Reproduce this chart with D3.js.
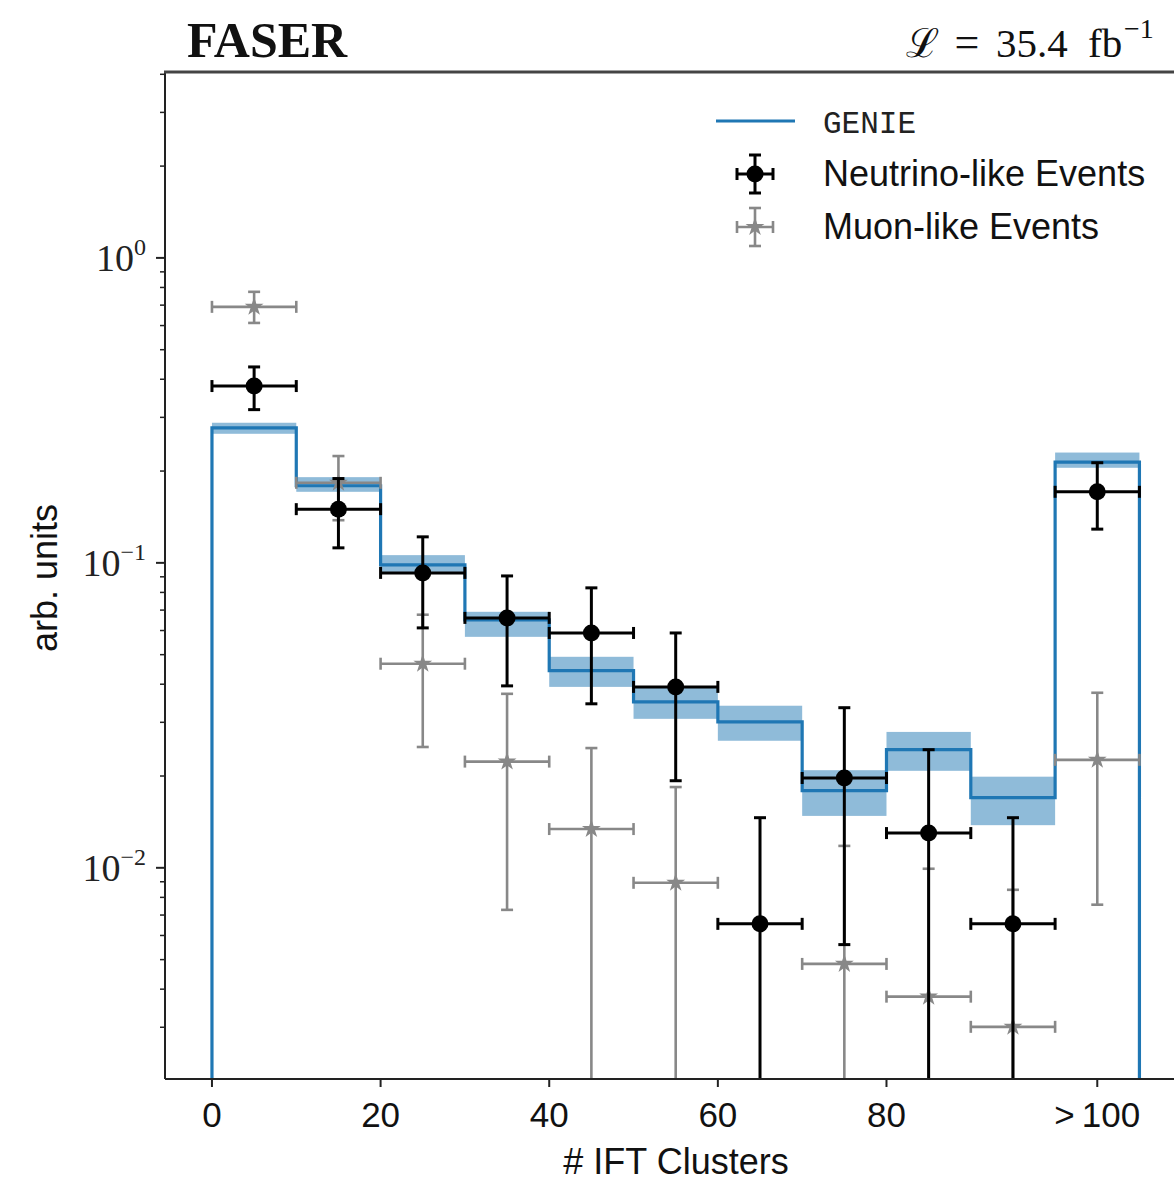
<!DOCTYPE html>
<html><head><meta charset="utf-8">
<script src="https://cdn.jsdelivr.net/npm/d3@7"></script>
<style>body{margin:0;background:#fff;}svg{display:block;}</style>
</head><body>
<svg id="c" width="1174" height="1182"></svg>
<script>
// ---- data ----
const binEdges = [0,10,20,30,40,50,60,70,80,90,100,110];
const genie     = [0.277,0.179,0.0985,0.0650,0.0443,0.0350,0.0301,0.0179,0.0244,0.0170,0.214];
const genieLow  = [0.265,0.171,0.0934,0.0572,0.0392,0.0308,0.0261,0.0148,0.0208,0.0138,0.205];
const genieHigh = [0.288,0.191,0.106,0.0691,0.0492,0.0389,0.0340,0.0209,0.0279,0.0199,0.230];

const nuX    = [5,15,25,35,45,55,65,75,85,95,105];
const nuY    = [0.380,0.150,0.0927,0.0660,0.0589,0.0392,0.00655,0.0197,0.0130,0.00655,0.171];
const nuLow  = [0.318,0.112,0.0612,0.0395,0.0345,0.0193,0,0.0056,0,0,0.129];
const nuHigh = [0.439,0.189,0.1217,0.0906,0.0828,0.0589,0.0146,0.0335,0.0244,0.0146,0.213];

const muX    = [5,15,25,35,45,55,75,85,95,105];
const muY    = [0.691,0.183,0.0467,0.0223,0.0134,0.00893,0.00484,0.00378,0.00301,0.0226];
const muLow  = [0.612,0.138,0.0249,0.00728,0,0,0,0,0,0.00757];
const muHigh = [0.774,0.224,0.0676,0.0372,0.0247,0.0184,0.0118,0.00993,0.00847,0.0375];

const xTickVals   = [0,20,40,60,80,105];
const xTickLabels = ["0","20","40","60","80",">\u2009100"];
const yMajor = [1,0.1,0.01];
const yMajorExp = ["0","\u22121","\u22122"];

// ---- layout ----
const L=165, T=72, R=1174, B=1079;
const svg = d3.select("#c");
const x = d3.scaleLinear().domain([-5.57,114.1]).range([L,R]);
const y = d3.scaleLog().domain([0.00203,4.07]).range([B,T]);
const yc = v => v<=0 ? B+20 : y(v);

const blue="#1f77b4", grey="#888888";
const sans="Liberation Sans, Arial, sans-serif";

svg.append("defs").append("clipPath").attr("id","clip")
  .append("rect").attr("x",L).attr("y",T).attr("width",R-L+20).attr("height",B-T);

const g = svg.append("g").attr("clip-path","url(#clip)");

// band
const bins = d3.range(genie.length);
g.selectAll("rect.band").data(bins).join("rect")
  .attr("x",i=>x(binEdges[i])).attr("width",i=>x(binEdges[i+1])-x(binEdges[i]))
  .attr("y",i=>y(genieHigh[i])).attr("height",i=>y(genieLow[i])-y(genieHigh[i]))
  .attr("fill",blue).attr("fill-opacity",0.5);

// step line
let d = `M${x(binEdges[0])},${B+10}`;
bins.forEach(i=>{ d += `L${x(binEdges[i])},${y(genie[i])}L${x(binEdges[i+1])},${y(genie[i])}`; });
d += `L${x(binEdges[binEdges.length-1])},${B+10}`;
g.append("path").attr("d",d).attr("fill","none").attr("stroke",blue).attr("stroke-width",3.2);

function errbars(sel, xs, ys, lo, hi, color, lw, cap){
  const idx=d3.range(xs.length);
  const grp=sel.append("g").attr("stroke",color).attr("stroke-width",lw);
  idx.forEach(i=>{
    const cx=x(xs[i]), cy=y(ys[i]);
    const x0=x(xs[i]-5), x1=x(xs[i]+5);
    const yt=yc(hi[i]), yb=yc(lo[i]);
    grp.append("line").attr("x1",x0).attr("x2",x1).attr("y1",cy).attr("y2",cy);
    grp.append("line").attr("x1",cx).attr("x2",cx).attr("y1",yt).attr("y2",yb);
    grp.append("line").attr("x1",x0).attr("x2",x0).attr("y1",cy-cap).attr("y2",cy+cap);
    grp.append("line").attr("x1",x1).attr("x2",x1).attr("y1",cy-cap).attr("y2",cy+cap);
    grp.append("line").attr("x1",cx-cap).attr("x2",cx+cap).attr("y1",yt).attr("y2",yt);
    if(lo[i]>0) grp.append("line").attr("x1",cx-cap).attr("x2",cx+cap).attr("y1",yb).attr("y2",yb);
  });
}
errbars(g, muX, muY, muLow, muHigh, grey, 2.6, 6);
g.selectAll("path.mu").data(muX).join("path")
  .attr("transform",(v,i)=>`translate(${x(v)},${y(muY[i])})`)
  .attr("d",d3.symbol(d3.symbolStar,110)).attr("fill",grey);
errbars(g, nuX, nuY, nuLow, nuHigh, "#000", 3, 6);
g.selectAll("circle.nu").data(nuX).join("circle")
  .attr("cx",v=>x(v)).attr("cy",(v,i)=>y(nuY[i])).attr("r",8.5).attr("fill","#000");

// axes / spines
const ax = svg.append("g").attr("stroke","#222").attr("stroke-width",2);
ax.append("line").attr("x1",L).attr("x2",L).attr("y1",T).attr("y2",B);
ax.append("line").attr("x1",L).attr("x2",R).attr("y1",B).attr("y2",B);
svg.append("line").attr("x1",L-1).attr("x2",R).attr("y1",T).attr("y2",T).attr("stroke","#444").attr("stroke-width",3);

// x ticks
xTickVals.forEach((v,i)=>{
  svg.append("line").attr("x1",x(v)).attr("x2",x(v)).attr("y1",B).attr("y2",B+8).attr("stroke","#222").attr("stroke-width",2);
  svg.append("text").attr("x",x(v)).attr("y",1127).attr("text-anchor","middle")
    .attr("font-family",sans).attr("font-size",35).attr("fill","#111")
    .text(xTickLabels[i]);
});
svg.append("text").attr("x",676).attr("y",1174).attr("text-anchor","middle")
  .attr("font-family",sans).attr("font-size",36).attr("fill","#111")
  .text("# IFT Clusters");

// y ticks
const minor=[];
[-3,-2,-1,0].forEach(e=>{ for(let m=2;m<=9;m++){ const v=m*Math.pow(10,e); if(v>y.domain()[0]&&v<y.domain()[1]) minor.push(v);} });
minor.forEach(v=>{
  svg.append("line").attr("x1",L).attr("x2",L-5).attr("y1",y(v)).attr("y2",y(v)).attr("stroke","#222").attr("stroke-width",1.5);
});
yMajor.forEach((v,i)=>{
  svg.append("line").attr("x1",L).attr("x2",L-9).attr("y1",y(v)).attr("y2",y(v)).attr("stroke","#222").attr("stroke-width",2);
  const t=svg.append("text").attr("x",146).attr("y",y(v)+13).attr("text-anchor","end")
    .attr("font-family","Liberation Serif, serif").attr("font-size",38).attr("fill","#222");
  t.append("tspan").text("10");
  t.append("tspan").attr("dy",-16).attr("font-size",24).text(yMajorExp[i]);
});
svg.append("text").attr("transform","translate(57,578) rotate(-90)").attr("text-anchor","middle")
  .attr("font-family",sans).attr("font-size",36).attr("fill","#111")
  .text("arb. units");

// header
svg.append("text").attr("x",187).attr("y",57).attr("font-family","Liberation Serif, serif")
  .attr("font-weight","bold").attr("font-size",50).attr("fill","#111").text("FASER");
const ser="Liberation Serif, DejaVu Serif, serif";
svg.append("text").attr("x",906).attr("y",57).attr("font-family","DejaVu Serif, serif").attr("font-size",40).attr("fill","#111").text("\u2112");
svg.append("text").attr("x",967).attr("y",57).attr("text-anchor","middle").attr("font-family",ser).attr("font-size",44).attr("fill","#111").text("=");
svg.append("text").attr("x",996).attr("y",57).attr("font-family",ser).attr("font-size",41).attr("fill","#111").text("35.4");
svg.append("text").attr("x",1088).attr("y",57).attr("font-family",ser).attr("font-size",41).attr("fill","#111").text("fb");
svg.append("text").attr("x",1124).attr("y",38).attr("font-family",ser).attr("font-size",28).attr("fill","#111").text("\u22121");

// legend
const lg=svg.append("g");
lg.append("line").attr("x1",716).attr("x2",795).attr("y1",121).attr("y2",121).attr("stroke",blue).attr("stroke-width",3.2);
lg.append("text").attr("x",823).attr("y",133).attr("font-family","Liberation Mono, DejaVu Sans Mono, monospace")
  .attr("font-size",31).attr("fill","#222").text("GENIE");
function legMark(cy,color,lw,isStar){
  const gg=lg.append("g").attr("stroke",color).attr("stroke-width",lw);
  gg.append("line").attr("x1",737).attr("x2",773).attr("y1",cy).attr("y2",cy);
  gg.append("line").attr("x1",755).attr("x2",755).attr("y1",cy-19).attr("y2",cy+19);
  [[737,cy-6,737,cy+6],[773,cy-6,773,cy+6],[749,cy-19,761,cy-19],[749,cy+19,761,cy+19]].forEach(a=>
    gg.append("line").attr("x1",a[0]).attr("y1",a[1]).attr("x2",a[2]).attr("y2",a[3]));
  if(isStar) lg.append("path").attr("transform",`translate(755,${cy})`).attr("d",d3.symbol(d3.symbolStar,110)).attr("fill",color);
  else lg.append("circle").attr("cx",755).attr("cy",cy).attr("r",8.5).attr("fill",color);
}
legMark(174,"#000",3,false);
legMark(227,grey,2.6,true);
lg.append("text").attr("x",823).attr("y",186).attr("font-family",sans)
  .attr("font-size",36).attr("fill","#111").text("Neutrino-like Events");
lg.append("text").attr("x",823).attr("y",239).attr("font-family",sans)
  .attr("font-size",36).attr("fill","#111").text("Muon-like Events");
</script>
</body></html>
